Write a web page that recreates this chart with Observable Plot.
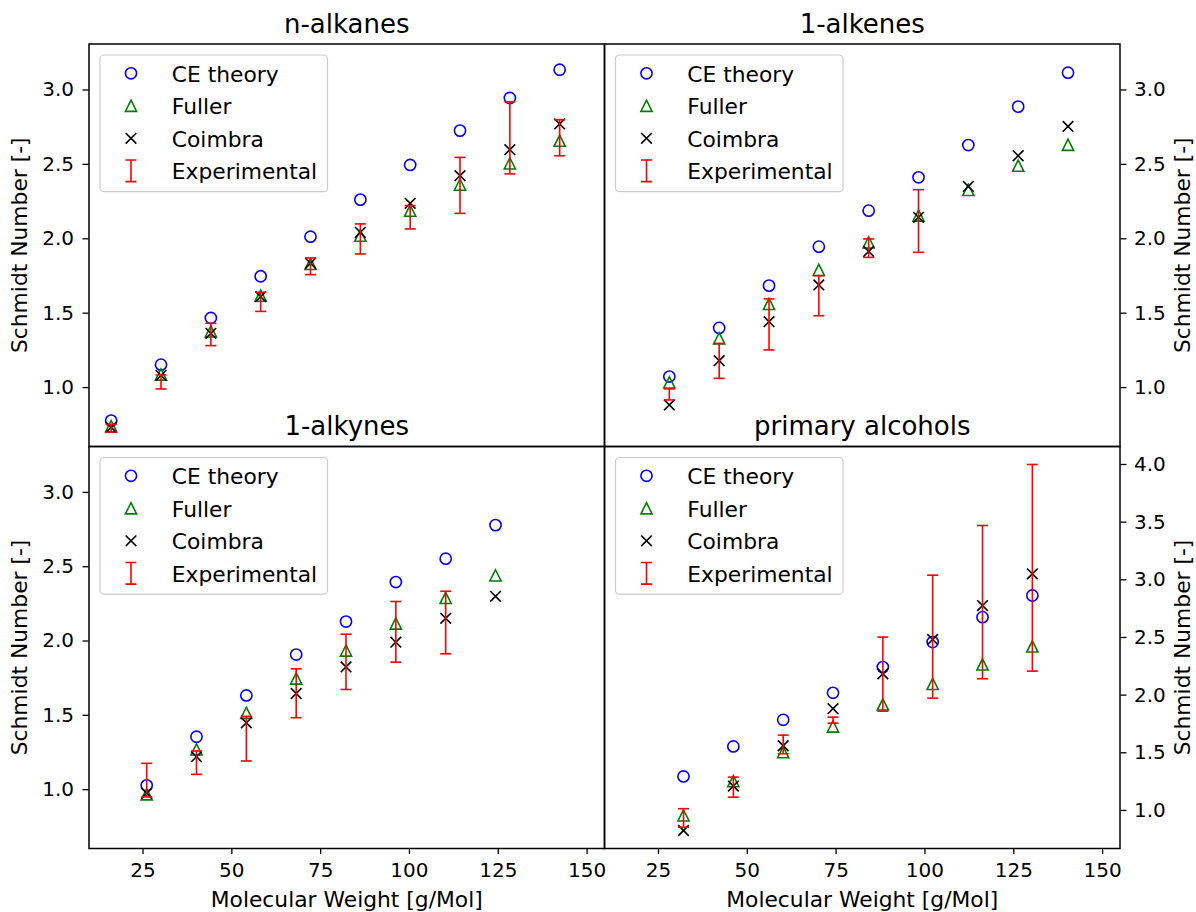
<!DOCTYPE html>
<html><head><meta charset="utf-8">
<script src="https://cdn.jsdelivr.net/npm/d3@7"></script>
<script src="https://cdn.jsdelivr.net/npm/@observablehq/plot@0.6"></script>
<style>
html,body{margin:0;padding:0;background:#fff;}
#fig{position:relative;width:1196px;height:912px;font-family:"DejaVu Sans",sans-serif;}
</style></head><body><div id="fig"></div>
<script>
const FONT = "DejaVu Sans";
const seriesNames = ["CE theory", "Fuller", "Coimbra", "Experimental"];
const seriesColors = ["#0000ff", "#008000", "#000000", "#ff0000"];
const xTicks = [25, 50, 75, 100, 125, 150];
const yTicksShared = [1.0, 1.5, 2.0, 2.5, 3.0];
const yTicksAlcohols = [1.0, 1.5, 2.0, 2.5, 3.0, 3.5, 4.0];
const xDomain = [9.8, 154.9];
const yDomainShared = [0.604, 3.309];
const yDomainAlcohols = [0.670, 4.156];
const xLabel = "Molecular Weight [g/Mol]";
const yLabel = "Schmidt Number [-]";

// n-alkanes
const mwAlkanes = [16.04, 30.07, 44.10, 58.12, 72.15, 86.18, 100.20, 114.23, 128.26, 142.28];
const ceAlkanes = [0.778, 1.154, 1.468, 1.748, 2.014, 2.263, 2.496, 2.727, 2.946, 3.136];
const fullerAlkanes = [0.740, 1.088, 1.378, 1.618, 1.831, 2.021, 2.189, 2.364, 2.507, 2.659];
const coimbraAlkanes = [0.733, 1.082, 1.365, 1.611, 1.835, 2.043, 2.238, 2.424, 2.599, 2.772];
const expLoAlkanes = [0.700, 0.991, 1.282, 1.512, 1.759, 1.898, 2.066, 2.171, 2.436, 2.558];
const expHiAlkanes = [0.752, 1.085, 1.432, 1.640, 1.871, 2.100, 2.223, 2.547, 2.921, 2.800];

// 1-alkenes
const mwAlkenes = [28.05, 42.08, 56.11, 70.13, 84.16, 98.19, 112.21, 126.24, 140.27];
const ceAlkenes = [1.074, 1.401, 1.685, 1.947, 2.189, 2.413, 2.630, 2.888, 3.116];
const fullerAlkenes = [1.035, 1.331, 1.562, 1.791, 1.976, 2.156, 2.328, 2.491, 2.632];
const coimbraAlkenes = [0.883, 1.181, 1.443, 1.690, 1.915, 2.144, 2.352, 2.558, 2.755];
const expLoAlkenes = [0.917, 1.062, 1.253, 1.483, 1.875, 1.909];
const expHiAlkenes = [0.991, 1.297, 1.596, 1.752, 1.999, 2.330];

// 1-alkynes
const mwAlkynes = [26.04, 40.06, 54.09, 68.12, 82.14, 96.17, 110.20, 124.22];
const ceAlkynes = [1.029, 1.356, 1.634, 1.909, 2.131, 2.397, 2.554, 2.780];
const fullerAlkynes = [0.969, 1.271, 1.517, 1.748, 1.936, 2.118, 2.290, 2.442];
const coimbraAlkynes = [0.975, 1.222, 1.450, 1.647, 1.826, 1.992, 2.153, 2.301];
const expLoAlkynes = [0.951, 1.103, 1.193, 1.484, 1.674, 1.858, 1.914];
const expHiAlkynes = [1.177, 1.260, 1.493, 1.813, 2.046, 2.266, 2.335];

// primary alcohols
const mwAlcohols = [32.04, 46.07, 60.10, 74.12, 88.15, 102.17, 116.20, 130.23];
const ceAlcohols = [1.295, 1.555, 1.786, 2.020, 2.243, 2.460, 2.676, 2.864];
const fullerAlcohols = [0.957, 1.254, 1.505, 1.728, 1.919, 2.098, 2.266, 2.422];
const coimbraAlcohols = [0.826, 1.211, 1.561, 1.882, 2.185, 2.483, 2.777, 3.052];
const expLoAlcohols = [0.855, 1.115, 1.492, 1.757, 1.861, 1.974, 2.142, 2.208];
const expHiAlcohols = [1.015, 1.289, 1.653, 1.809, 2.503, 3.040, 3.471, 4.000];

function rows(mw, ce, fu, co) { return mw.map((m, i) => ({mw: m, ce: ce[i], fuller: fu[i], coimbra: co[i]})); }
function errRows(mw, lo, hi) { return lo.map((l, i) => ({mw: mw[i], lo: l, hi: hi[i]})); }

const R = 5.6, CAP = 5.5, SW = 1.6;
const triangle = {draw(ctx, size) { const s = Math.sqrt(size / Math.PI); ctx.moveTo(0, -s); ctx.lineTo(s, s); ctx.lineTo(-s, s); ctx.closePath(); }};
const times = {draw(ctx, size) { const s = Math.sqrt(size / Math.PI) * 0.95; ctx.moveTo(-s, -s); ctx.lineTo(s, s); ctx.moveTo(-s, s); ctx.lineTo(s, -s); }};
const cap = {draw(ctx, size) { const s = Math.sqrt(size / Math.PI); ctx.moveTo(-s, 0); ctx.lineTo(s, 0); }};

function legendMark() {
  return (index, scales, values, dims) => {
    const g = d3.create("svg:g").attr("transform", `translate(${dims.marginLeft},${dims.marginTop})`);
    g.append("rect").attr("x", 11.5).attr("y", 11.5).attr("width", 227.5).attr("height", 136.7)
      .attr("rx", 4).attr("fill", "white").attr("fill-opacity", 0.8).attr("stroke", "#cccccc").attr("stroke-width", 1.2);
    const sx = 42.5;
    seriesNames.forEach((name, i) => {
      const cy = 29.8 + i * 32.5;
      const col = seriesColors[i];
      if (i === 0) {
        g.append("circle").attr("cx", sx).attr("cy", cy).attr("r", R).attr("fill", "none").attr("stroke", col).attr("stroke-width", SW);
      } else {
        const p = d3.path();
        if (i === 1) triangle.draw(p, R * R * Math.PI);
        else if (i === 2) times.draw(p, R * R * Math.PI);
        else { p.moveTo(0, -10.8); p.lineTo(0, 10.8); p.moveTo(-CAP, -10.8); p.lineTo(CAP, -10.8); p.moveTo(-CAP, 10.8); p.lineTo(CAP, 10.8); }
        g.append("path").attr("transform", `translate(${sx},${cy})`).attr("d", p.toString())
          .attr("fill", "none").attr("stroke", col).attr("stroke-width", SW);
      }
      g.append("text").attr("x", 83.3).attr("y", cy + 1).attr("dy", "0.35em").attr("text-anchor", "start")
        .attr("font-family", FONT).attr("font-size", 21.8).attr("fill", "#000").text(name);
    });
    return g.node();
  };
}

const panels = [
  {title: "n-alkanes", data: rows(mwAlkanes, ceAlkanes, fullerAlkanes, coimbraAlkanes), err: errRows(mwAlkanes, expLoAlkanes, expHiAlkanes),
   box: {left: 88.5, right: 604, top: 43.5, bottom: 446}, side: "left", xAxis: false, yDomain: yDomainShared, yTicks: yTicksShared},
  {title: "1-alkenes", data: rows(mwAlkenes, ceAlkenes, fullerAlkenes, coimbraAlkenes), err: errRows(mwAlkenes, expLoAlkenes, expHiAlkenes),
   box: {left: 604, right: 1119.5, top: 43.5, bottom: 446}, side: "right", xAxis: false, yDomain: yDomainShared, yTicks: yTicksShared},
  {title: "1-alkynes", data: rows(mwAlkynes, ceAlkynes, fullerAlkynes, coimbraAlkynes), err: errRows(mwAlkynes, expLoAlkynes, expHiAlkynes),
   box: {left: 88.5, right: 604, top: 446, bottom: 848}, side: "left", xAxis: true, yDomain: yDomainShared, yTicks: yTicksShared},
  {title: "primary alcohols", data: rows(mwAlcohols, ceAlcohols, fullerAlcohols, coimbraAlcohols), err: errRows(mwAlcohols, expLoAlcohols, expHiAlcohols),
   box: {left: 604, right: 1119.5, top: 446, bottom: 848}, side: "right", xAxis: true, yDomain: yDomainAlcohols, yTicks: yTicksAlcohols}
];

function panelPlot(p) {
  const W = 1196, H = 912;
  const marks = [
    Plot.dot(p.data, {x: "mw", y: "ce", symbol: "circle", r: R, stroke: seriesColors[0], fill: "none", strokeWidth: SW}),
    Plot.dot(p.data, {x: "mw", y: "fuller", symbol: triangle, r: R, stroke: seriesColors[1], fill: "none", strokeWidth: SW}),
    Plot.dot(p.data, {x: "mw", y: "coimbra", symbol: times, r: R, stroke: seriesColors[2], fill: "none", strokeWidth: SW}),
    Plot.ruleX(p.err, {x: "mw", y1: "lo", y2: "hi", stroke: seriesColors[3], strokeWidth: SW}),
    Plot.dot(p.err, {x: "mw", y: "lo", symbol: cap, r: CAP, stroke: seriesColors[3], fill: "none", strokeWidth: SW}),
    Plot.dot(p.err, {x: "mw", y: "hi", symbol: cap, r: CAP, stroke: seriesColors[3], fill: "none", strokeWidth: SW}),
    Plot.frame({stroke: "black", strokeWidth: 1.5}),
    Plot.axisY({anchor: p.side, ticks: p.yTicks, tickFormat: d3.format(".1f"), tickSize: 6, tickPadding: p.side === "left" ? 9 : 8,
                fontSize: 20, label: null, strokeWidth: 1.3}),
    Plot.text([p.title], {text: d => d, frameAnchor: "top", dy: -19.5, lineAnchor: "middle", textAnchor: "middle", fontSize: 26}),
    Plot.text([yLabel], {text: d => d, frameAnchor: p.side, dx: p.side === "left" ? -68.5 : 63.5, rotate: -90, fontSize: 21.8,
                         lineAnchor: "middle", textAnchor: "middle"}),
    legendMark()
  ];
  if (p.xAxis) {
    marks.push(
      Plot.axisX({ticks: xTicks, tickSize: 6, tickPadding: 8, fontSize: 20, label: null, strokeWidth: 1.3}),
      Plot.text([xLabel], {text: d => d, frameAnchor: "bottom", dy: 43, lineAnchor: "top", textAnchor: "middle", fontSize: 21.8})
    );
  }
  return Plot.plot({
    width: W, height: H,
    marginLeft: p.box.left, marginRight: W - p.box.right, marginTop: p.box.top, marginBottom: H - p.box.bottom,
    x: {domain: xDomain, axis: p.xAxis ? undefined : null},
    y: {domain: p.yDomain},
    style: {background: "none", fontFamily: FONT, overflow: "visible", position: "absolute", left: "0px", top: "0px", color: "#000"},
    marks
  });
}

const fig = document.getElementById("fig");
panels.forEach(p => fig.appendChild(panelPlot(p)));
</script></body></html>
